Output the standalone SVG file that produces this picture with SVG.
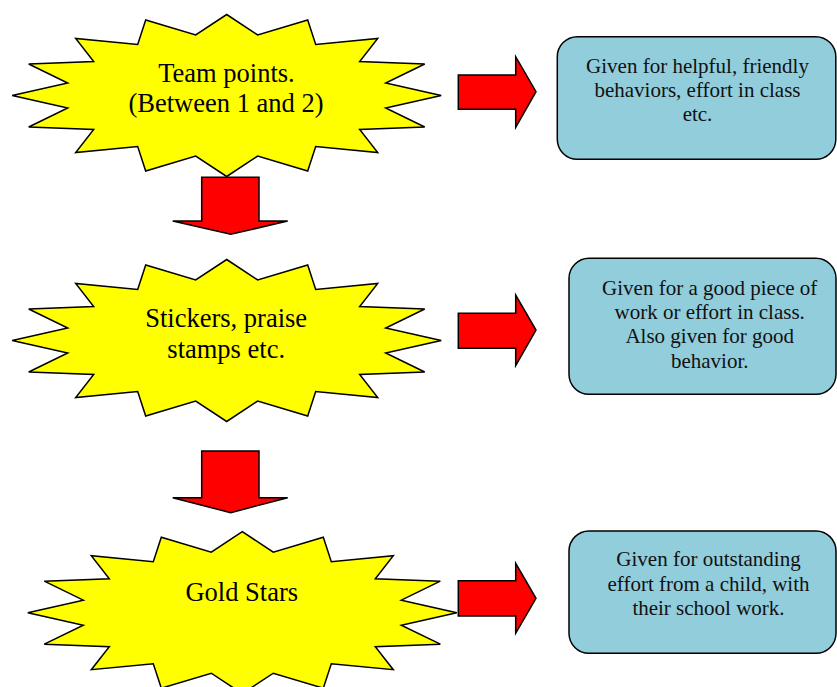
<svg xmlns="http://www.w3.org/2000/svg" width="837" height="687" viewBox="0 0 837 687">
  <defs>
    <path id="burst" d="M0,-81 L31,-60.5 L81,-75.5 L89,-51 L151,-57 L133,-34 L198,-31.5 L159,-12.5 L214.5,0 L159,12.5 L198,31.5 L133,34 L151,57 L89,51 L81,75.5 L31,60.5 L0,81 L-31,60.5 L-81,75.5 L-89,51 L-151,57 L-133,34 L-198,31.5 L-159,12.5 L-214.5,0 L-159,-12.5 L-198,-31.5 L-133,-34 L-151,-57 L-89,-51 L-81,-75.5 L-31,-60.5 Z"/>
  </defs>
  <style>
    .burst { fill: #FFFF00; stroke: #000; stroke-width: 1.5; stroke-linejoin: miter; }
    .arrow { fill: #FF0000; stroke: #000; stroke-width: 1.5; stroke-linejoin: miter; }
    .box { fill: #92CDDC; stroke: #000; stroke-width: 1.5; }
    .st { font-family: "Liberation Serif", "Times New Roman", serif; font-size: 26.5px; fill: #000; text-anchor: middle; }
    .bt { font-family: "Liberation Serif", "Times New Roman", serif; font-size: 21px; fill: #111; text-anchor: middle; }
  </style>
  <rect width="837" height="687" fill="#fff"/>

  <g id="connectors">
    <polygon class="arrow" points="201.7,177.3 259,177.3 259,221 287.7,221 230.7,234.3 172.7,221 201.7,221"/>
    <polygon class="arrow" points="201.7,451 259,451 259,497.7 287.7,497.7 230.7,512.7 172.7,497.7 201.7,497.7"/>
    <polygon class="arrow" points="458.3,75 515.7,75 515.7,56.7 536,91.7 515.7,127.3 515.7,109.3 458.3,109.3"/>
    <polygon class="arrow" points="458.3,313.3 515.7,313.3 515.7,295 536,330 515.7,365.7 515.7,348.3 458.3,348.3"/>
    <polygon class="arrow" points="458.3,580.7 515.7,580.7 515.7,563.3 536,598.3 515.7,633.3 515.7,616 458.3,616"/>
  </g>

  <g id="team-points">
    <use href="#burst" class="burst" transform="translate(226.7,95.5)"/>
    <text class="st" x="226.5" y="81.7">Team points.</text>
    <text class="st" x="226" y="111.7">(Between 1 and 2)</text>
  </g>

  <g id="stickers">
    <use href="#burst" class="burst" transform="translate(226.7,340.5)"/>
    <text class="st" x="226.2" y="326.7">Stickers, praise</text>
    <text class="st" x="226.2" y="357.7">stamps etc.</text>
  </g>

  <g id="gold-stars">
    <use href="#burst" class="burst" transform="translate(242.3,612.7)"/>
    <text class="st" x="241.8" y="600.7">Gold Stars</text>
  </g>

  <g id="box-team-points">
    <rect class="box" x="557.3" y="36.7" width="278.5" height="122.6" rx="20" ry="20"/>
    <text class="bt" x="697.5" y="73.3">Given for helpful, friendly</text>
    <text class="bt" x="697.5" y="97">behaviors, effort in class</text>
    <text class="bt" x="697.5" y="120.7">etc.</text>
  </g>

  <g id="box-stickers">
    <rect class="box" x="569" y="258.3" width="267" height="136" rx="20" ry="20"/>
    <text class="bt" x="709.7" y="295">Given for a good piece of</text>
    <text class="bt" x="709.7" y="319">work or effort in class.</text>
    <text class="bt" x="709.7" y="343.3">Also given for good</text>
    <text class="bt" x="709.7" y="368">behavior.</text>
  </g>

  <g id="box-gold-stars">
    <rect class="box" x="569" y="531" width="267" height="122.3" rx="20" ry="20"/>
    <text class="bt" x="708.5" y="565.7">Given for outstanding</text>
    <text class="bt" x="708.5" y="590.7">effort from a child, with</text>
    <text class="bt" x="708.5" y="615">their school work.</text>
  </g>
</svg>
